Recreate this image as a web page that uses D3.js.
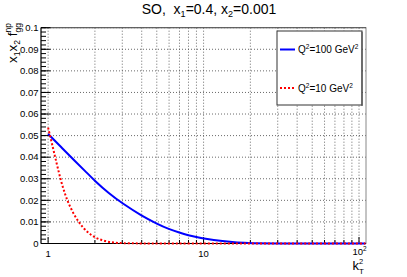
<!DOCTYPE html>
<html><head><meta charset="utf-8">
<script src="https://cdn.jsdelivr.net/npm/d3@7"></script>
<style>
body{margin:0;background:#fff}
svg{display:block}
text{font-family:"Liberation Sans",Arial,Helvetica,sans-serif;fill:#000;white-space:pre}
</style>
</head><body>
<svg id="c" width="407" height="277"></svg>
<script>
// ---- data ----
const blueK2  = [1, 1.23, 1.5, 1.74, 2, 2.46, 3, 4, 5, 6, 7, 8, 9, 10, 13.4, 16.5, 20, 30, 50, 110];
const blueVal = [0.0508, 0.0442, 0.0380, 0.0334, 0.0290, 0.0232, 0.0186, 0.0128, 0.0092, 0.0066, 0.0050, 0.0038, 0.0030, 0.0023, 0.0010, 0.0004, 0.00015, 0.00002, 0, 0];
const redK2   = [1, 1.035, 1.072, 1.104, 1.143, 1.182, 1.23, 1.293, 1.358, 1.462, 1.574, 1.696, 1.87, 2.06, 2.34, 2.65, 3, 4, 110];
const redVal  = [0.0537, 0.0492, 0.0446, 0.0407, 0.0362, 0.0319, 0.0272, 0.0223, 0.0183, 0.0136, 0.0099, 0.0069, 0.0041, 0.0023, 0.0010, 0.0004, 0.0001, 0, 0];
const yMajor  = [0, 0.01, 0.02, 0.03, 0.04, 0.05, 0.06, 0.07, 0.08, 0.09, 0.1];
const yMajorLabels = ["0", "0.01", "0.02", "0.03", "0.04", "0.05", "0.06", "0.07", "0.08", "0.09", "0.1"];
const xGrid   = [1,2,3,4,5,6,7,8,9,10,20,30,40,50,60,70,80,90,100];
const xMajor  = [1, 10, 100];
const seriesNames = ["100", "10"];

// ---- layout ----
const svg = d3.select("#c");
const L = 41, R = 366, T = 27.7, B = 243.5;
const x = d3.scaleLog().domain([0.9, 110.9]).range([L, R]);
const y = d3.scaleLinear().domain([0, 0.1]).range([B, T]);

svg.append("rect").attr("width",407).attr("height",277).attr("fill","#fff");

// grid
const g = svg.append("g");
g.selectAll("line.vg").data(xGrid).enter().append("line")
  .attr("x1", d => x(d)).attr("x2", d => x(d)).attr("y1", T).attr("y2", B)
  .attr("stroke", "#444").attr("stroke-width", 0.8).attr("stroke-dasharray", "1,2");
g.selectAll("line.hg").data(yMajor).enter().append("line")
  .attr("x1", L).attr("x2", R).attr("y1", d => y(d)).attr("y2", d => y(d))
  .attr("stroke", "#444").attr("stroke-width", 0.8).attr("stroke-dasharray", "1,2");

// frame
svg.append("rect").attr("x", L).attr("y", T).attr("width", R - L).attr("height", B - T)
  .attr("fill", "none").attr("stroke", "#888").attr("stroke-width", 1);
svg.append("line").attr("x1", L).attr("x2", R).attr("y1", T).attr("y2", T)
  .attr("stroke", "#555").attr("stroke-width", 1);

// y axis ticks (inside, ROOT style)
const yMinor = d3.range(0, 0.1001, 0.002);
svg.selectAll("line.ymi").data(yMinor).enter().append("line")
  .attr("x1", L).attr("x2", L + 5).attr("y1", d => y(d)).attr("y2", d => y(d))
  .attr("stroke", "#000").attr("stroke-width", 1);
svg.selectAll("line.yma").data(yMajor).enter().append("line")
  .attr("x1", L).attr("x2", L + 9.5).attr("y1", d => y(d)).attr("y2", d => y(d))
  .attr("stroke", "#000").attr("stroke-width", 1);
svg.append("line").attr("x1", L).attr("x2", L).attr("y1", T).attr("y2", B)
  .attr("stroke", "#000").attr("stroke-width", 1);
svg.selectAll("text.yl").data(yMajor).enter().append("text")
  .attr("x", L - 2.5).attr("y", d => y(d) + 3.3)
  .attr("text-anchor", "end").attr("font-size", 9.5)
  .text((d, i) => yMajorLabels[i]);

// x axis ticks (pointing up)
svg.selectAll("line.xmi").data(xGrid).enter().append("line")
  .attr("x1", d => x(d)).attr("x2", d => x(d)).attr("y1", B).attr("y2", d => xMajor.includes(d) ? B - 6.5 : B - 3.5)
  .attr("stroke", "#000").attr("stroke-width", 1);
svg.append("line").attr("x1", L).attr("x2", R).attr("y1", B).attr("y2", B)
  .attr("stroke", "#000").attr("stroke-width", 1);
svg.append("text").attr("x", x(1)).attr("y", 256.5).attr("text-anchor", "middle").attr("font-size", 9.5).text("1");
svg.append("text").attr("x", x(10)).attr("y", 256.5).attr("text-anchor", "middle").attr("font-size", 9.5).text("10");
const t100 = svg.append("text").attr("x", x(100) - 6.5).attr("y", 255).attr("font-size", 9.5);
t100.append("tspan").text("10");
t100.append("tspan").attr("dy", -4).attr("font-size", 6.5).text("2");

// curves
const line = d3.line().x(d => x(d[0])).y(d => y(d[1])).curve(d3.curveBasis);
svg.append("path").datum(blueK2.map((k, i) => [k, blueVal[i]]))
  .attr("d", line).attr("fill", "none").attr("stroke", "#0000ff").attr("stroke-width", 2);
svg.append("path").datum(redK2.map((k, i) => [k, redVal[i]]))
  .attr("d", line).attr("fill", "none").attr("stroke", "#ff0000").attr("stroke-width", 2)
  .attr("stroke-dasharray", "2,2");

// title
const title = svg.append("text").attr("x", 209).attr("y", 13.5).attr("font-size", 14).attr("text-anchor", "middle");
title.append("tspan").text("SO,  x");
title.append("tspan").attr("dy", 3).attr("font-size", 9).text("1");
title.append("tspan").attr("dy", -3).text("=0.4, x");
title.append("tspan").attr("dy", 3).attr("font-size", 9).text("2");
title.append("tspan").attr("dy", -3).text("=0.001");

// x title k_T^2
const xt = svg.append("g");
xt.append("text").attr("x", 352.5).attr("y", 269.5).attr("font-size", 13).text("k");
const kx = 352.5 + 6.6;
xt.append("text").attr("x", kx).attr("y", 273.5).attr("font-size", 8).text("T");
xt.append("text").attr("x", kx).attr("y", 264).attr("font-size", 7.5).text("2");

// y title  x1 x2 f^np_gg (rotated, ending at the top of the axis)
const yt = svg.append("g").attr("transform", "translate(17,23) rotate(-90)");
const subGG = yt.append("text").attr("y", 3.5).attr("font-size", 8.5).text("gg");
const supNP = yt.append("text").attr("y", -6).attr("font-size", 8.5).text("np");
const sw = Math.max(subGG.node().getComputedTextLength(), supNP.node().getComputedTextLength());
subGG.attr("x", -sw); supNP.attr("x", -sw);
const yMain = yt.append("text").attr("y", 0).attr("font-size", 13.5);
yMain.append("tspan").text("x");
yMain.append("tspan").attr("dy", 3).attr("font-size", 8.5).text("1");
yMain.append("tspan").attr("dy", -3).text("x");
yMain.append("tspan").attr("dy", 3).attr("font-size", 8.5).text("2");
yMain.append("tspan").attr("dy", -3).text(" f");
const mw = yMain.node().getComputedTextLength();
yMain.attr("x", -sw - mw);

// legend
const lg = svg.append("g");
lg.append("rect").attr("x", 277).attr("y", 31).attr("width", 85).attr("height", 74)
  .attr("fill", "#fff").attr("stroke", "#333").attr("stroke-width", 1);
lg.append("line").attr("x1", 362).attr("x2", 362).attr("y1", 32).attr("y2", 106)
  .attr("stroke", "#555").attr("stroke-width", 1.3);
const legY = [49.5, 88];
const legCol = ["#0000ff", "#ff0000"];
const legDash = [null, "2,2"];
seriesNames.forEach((n, i) => {
  lg.append("line").attr("x1", 280).attr("x2", 295).attr("y1", legY[i]).attr("y2", legY[i])
    .attr("stroke", legCol[i]).attr("stroke-width", 2).attr("stroke-dasharray", legDash[i]);
  const t = lg.append("text").attr("x", 298).attr("y", legY[i] + 3.5).attr("font-size", 10);
  t.append("tspan").text("Q");
  t.append("tspan").attr("dy", -4).attr("font-size", 6.5).text("2");
  t.append("tspan").attr("dy", 4).text("=" + n + " GeV");
  t.append("tspan").attr("dy", -4).attr("font-size", 6.5).text("2");
});
</script>
</body></html>
